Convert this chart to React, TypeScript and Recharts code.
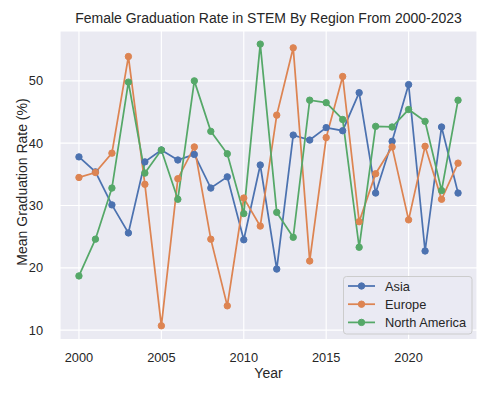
import React from 'react';
import { LineChart, Line, XAxis, YAxis, CartesianGrid, Label } from 'recharts';

const years = [2000, 2001, 2002, 2003, 2004, 2005, 2006, 2007, 2008, 2009, 2010, 2011, 2012, 2013, 2014, 2015, 2016, 2017, 2018, 2019, 2020, 2021, 2022, 2023];
const asia = [37.8, 35.4, 30.1, 25.6, 37.0, 38.9, 37.3, 38.2, 32.8, 34.6, 24.5, 36.5, 19.8, 41.3, 40.5, 42.5, 42.0, 48.1, 32.0, 40.3, 49.4, 22.7, 42.6, 32.0];
const europe = [34.5, 35.3, 38.4, 53.9, 33.4, 10.7, 34.3, 39.4, 24.6, 13.9, 31.2, 26.7, 44.5, 55.3, 21.1, 40.9, 50.7, 27.4, 35.1, 39.4, 27.7, 39.5, 31.0, 36.8];
const northAmerica = [18.7, 24.6, 32.8, 49.8, 35.2, 38.9, 31.0, 50.0, 41.9, 38.3, 28.7, 55.9, 28.9, 24.9, 46.9, 46.5, 43.8, 23.3, 42.7, 42.6, 45.4, 43.5, 32.4, 46.9];
const xTicks = [2000, 2005, 2010, 2015, 2020];
const yTicks = [10, 20, 30, 40, 50];
const seriesNames = ['Asia', 'Europe', 'North America'];

const colors = ['#4C72B0', '#DD8452', '#55A868'];
const font = '"Liberation Sans", Arial, sans-serif';
const textColor = '#262626';

const data = years.map((y, i) => ({ year: y, asia: asia[i], europe: europe[i], na: northAmerica[i] }));
const keys = ['asia', 'europe', 'na'];

export default function App() {
  return (
    <div style={{ position: 'relative', width: 491, height: 394, fontFamily: font }}>
      <style>{'body{margin:0}'}</style>
      <LineChart width={491} height={394} data={data} margin={{ top: 31, right: 14, left: 0, bottom: 9.5 }}>
        <CartesianGrid stroke="#ffffff" strokeWidth={1.17} fill="#EAEAF2" fillOpacity={1} />
        <XAxis
          dataKey="year"
          type="number"
          domain={[1998.85, 2024.15]}
          ticks={xTicks}
          allowDataOverflow
          height={45}
          tickLine={false}
          axisLine={false}
          tickSize={0}
          tickMargin={13}
          tick={{ fill: textColor, fontSize: 12.8, fontFamily: font }}
        >
          <Label
            content={() => (
              <text x={268.5} y={378} textAnchor="middle" fill={textColor} fontSize={14} fontFamily={font}>Year</text>
            )}
          />
        </XAxis>
        <YAxis
          type="number"
          domain={[8.5, 58.0]}
          ticks={yTicks}
          allowDataOverflow
          width={60}
          tickLine={false}
          axisLine={false}
          tickSize={0}
          tickMargin={17}
          tick={{ fill: textColor, fontSize: 12.8, fontFamily: font }}
        >
          <Label
            content={() => (
              <text x={27} y={182} transform="rotate(-90 27 182)" textAnchor="middle" fill={textColor} fontSize={14} fontFamily={font}>Mean Graduation Rate (%)</text>
            )}
          />
        </YAxis>
        {keys.map((k, i) => (
          <Line
            key={k}
            dataKey={k}
            name={seriesNames[i]}
            stroke={colors[i]}
            strokeWidth={1.75}
            dot={{ r: 3.2, fill: colors[i], stroke: colors[i], strokeWidth: 1 }}
            activeDot={false}
            isAnimationActive={false}
          />
        ))}
      </LineChart>
      <svg width={491} height={394} style={{ position: 'absolute', left: 0, top: 0, pointerEvents: 'none' }}>
        <text x={268.5} y={23} textAnchor="middle" fill={textColor} fontSize={14} fontFamily={font}>
          Female Graduation Rate in STEM By Region From 2000-2023
        </text>
        <rect x={343.5} y={276.5} width={128.5} height={57.5} rx={3} ry={3} fill="rgba(234,234,242,0.8)" stroke="#cccccc" strokeWidth={1} />
        {seriesNames.map((n, i) => {
          const cy = 286 + i * 18.2;
          return (
            <g key={n}>
              <line x1={348} x2={375} y1={cy} y2={cy} stroke={colors[i]} strokeWidth={1.75} />
              <circle cx={361.5} cy={cy} r={3.2} fill={colors[i]} stroke={colors[i]} strokeWidth={1} />
              <text x={385} y={cy + 4.5} fill={textColor} fontSize={12.8} fontFamily={font}>{n}</text>
            </g>
          );
        })}
      </svg>
    </div>
  );
}
